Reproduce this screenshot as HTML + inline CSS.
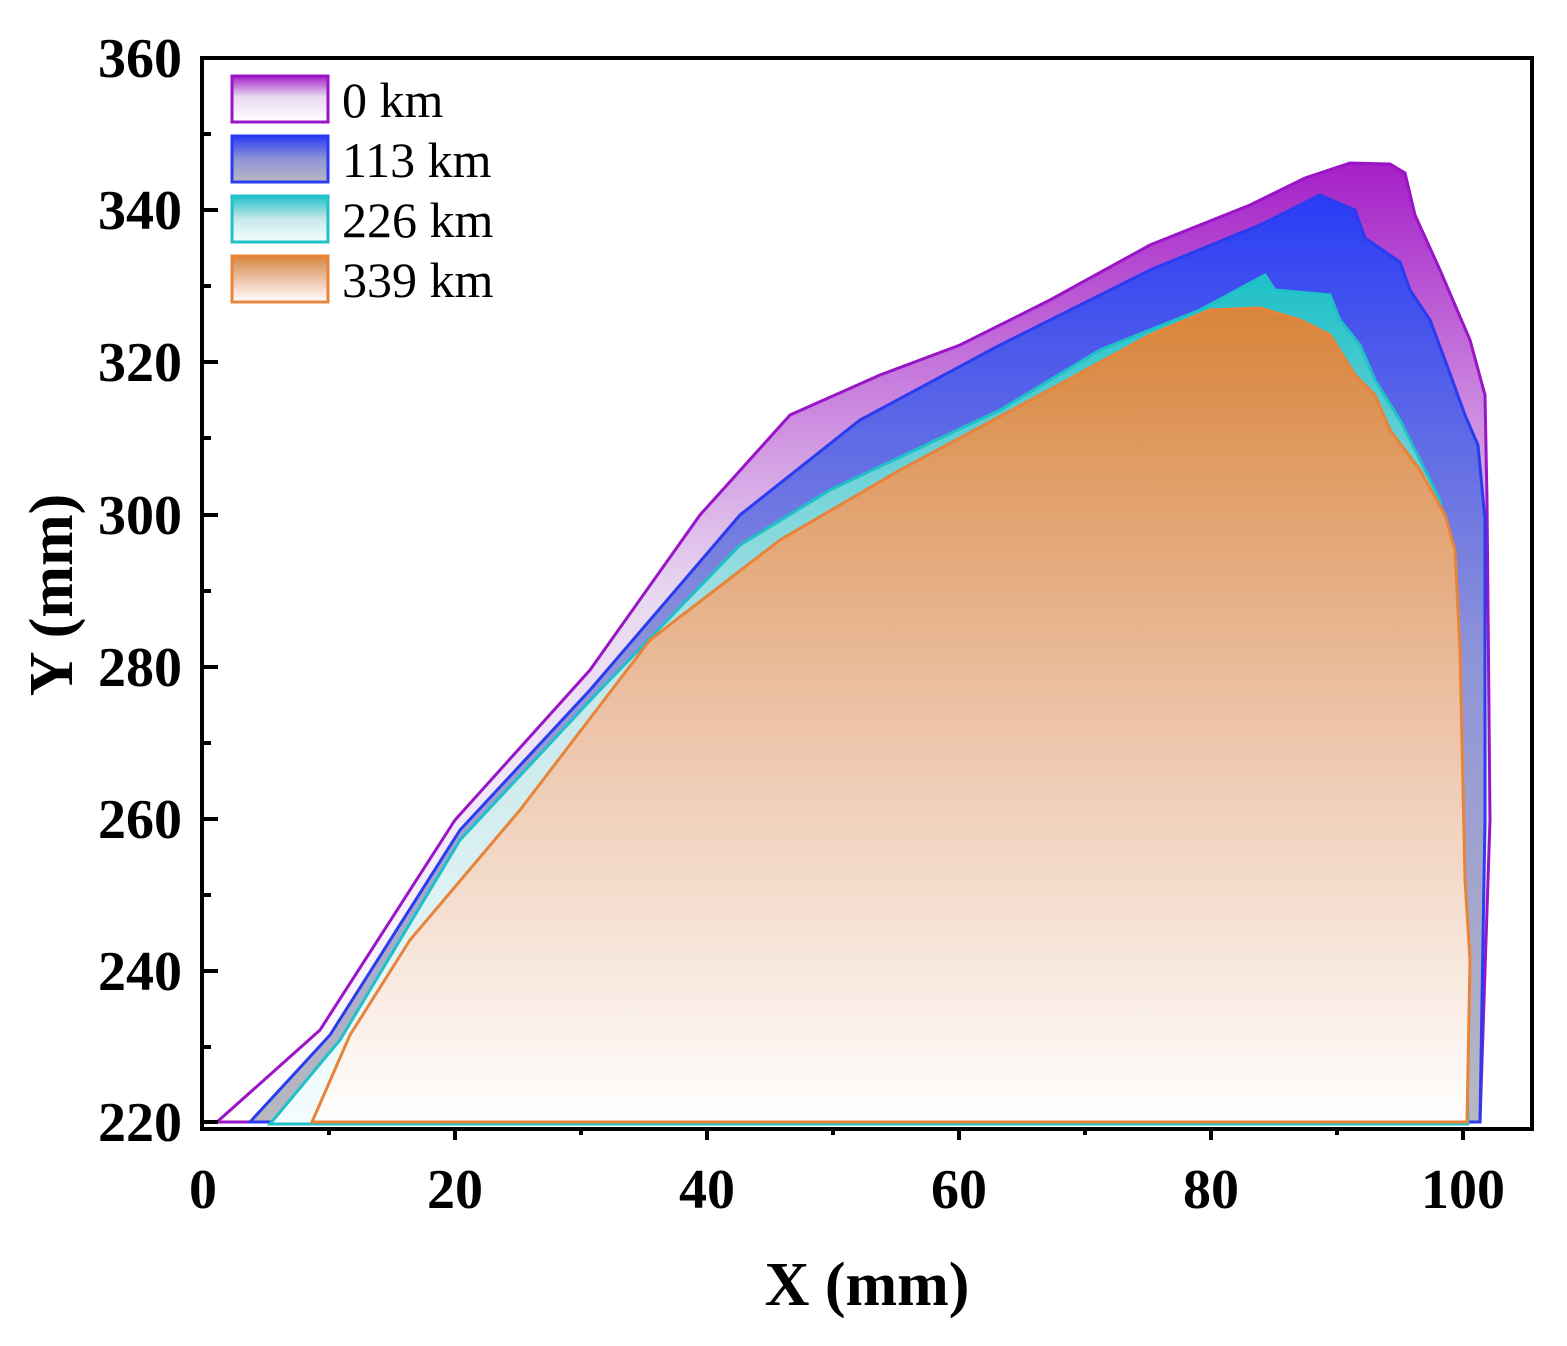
<!DOCTYPE html>
<html><head><style>body{margin:0;background:#fff}</style></head><body>
<svg width="1567" height="1341" xmlns="http://www.w3.org/2000/svg" font-family="Liberation Serif, serif">
<defs>
<linearGradient id="gp" x1="0" y1="0" x2="0" y2="1"><stop offset="0" stop-color="#a51fc8"/><stop offset="0.45" stop-color="#e8d8f0"/><stop offset="1" stop-color="#fff"/></linearGradient>
<linearGradient id="gb" x1="0" y1="0" x2="0" y2="1"><stop offset="0" stop-color="#2a3cf5"/><stop offset="0.5" stop-color="#8f94d8"/><stop offset="1" stop-color="#b8b8c0"/></linearGradient>
<linearGradient id="gc" x1="0" y1="0" x2="0" y2="1"><stop offset="0" stop-color="#1fc0c8"/><stop offset="0.5" stop-color="#c8e8ea"/><stop offset="1" stop-color="#f4fdfd"/></linearGradient>
<linearGradient id="go" x1="0" y1="0" x2="0" y2="1"><stop offset="0" stop-color="#d8843a"/><stop offset="0.5" stop-color="#ecc2a6"/><stop offset="1" stop-color="#fff"/></linearGradient>
</defs>
<polygon fill="url(#gp)" stroke="#9a14c8" stroke-width="3" points="217,1122 320,1030 455,820 590,670 700,515 790,415 880,375 960,345 1050,300 1150,245 1250,205 1305,178 1350,163 1390,164 1405,173 1415,215 1440,270 1470,340 1485,395 1487,500 1490,820 1480,1122"/>
<polygon fill="url(#gb)" stroke="#2a3cf0" stroke-width="3" points="250,1122 330,1035 460,830 590,690 740,515 860,420 1000,345 1150,270 1260,225 1320,195 1355,210 1365,238 1400,262 1410,290 1430,320 1445,360 1465,415 1478,445 1485,520 1485,820 1480,1122"/>
<polygon fill="url(#gc)" stroke="#20c0c8" stroke-width="3" points="270,1124 340,1040 460,840 600,690 740,545 830,490 1000,410 1100,350 1200,310 1265,275 1275,290 1330,295 1340,320 1360,345 1375,380 1400,420 1420,460 1440,500 1450,600 1462,900 1468,1124"/>
<polygon fill="url(#go)" stroke="#e8843a" stroke-width="3" points="312,1122 350,1035 410,940 520,810 650,640 780,540 900,470 1040,395 1150,335 1210,310 1260,308 1300,320 1330,335 1355,375 1375,395 1390,430 1420,470 1445,515 1455,550 1460,650 1465,880 1470,960 1467,1122"/>
<rect x="202" y="58" width="1330" height="1071" fill="none" stroke="#000" stroke-width="4"/>
<g stroke="#000" stroke-width="4">
<line x1="203" y1="58" x2="218" y2="58"/><line x1="203" y1="210" x2="218" y2="210"/><line x1="203" y1="362" x2="218" y2="362"/><line x1="203" y1="515" x2="218" y2="515"/><line x1="203" y1="667" x2="218" y2="667"/><line x1="203" y1="819" x2="218" y2="819"/><line x1="203" y1="971" x2="218" y2="971"/><line x1="203" y1="1122" x2="218" y2="1122"/>
<line x1="203" y1="134" x2="211" y2="134"/><line x1="203" y1="286" x2="211" y2="286"/><line x1="203" y1="438" x2="211" y2="438"/><line x1="203" y1="591" x2="211" y2="591"/><line x1="203" y1="743" x2="211" y2="743"/><line x1="203" y1="895" x2="211" y2="895"/><line x1="203" y1="1047" x2="211" y2="1047"/>
<line x1="455" y1="1129" x2="455" y2="1140"/><line x1="707" y1="1129" x2="707" y2="1140"/><line x1="959" y1="1129" x2="959" y2="1140"/><line x1="1211" y1="1129" x2="1211" y2="1140"/><line x1="1463" y1="1129" x2="1463" y2="1140"/>
<line x1="329" y1="1129" x2="329" y2="1135"/><line x1="581" y1="1129" x2="581" y2="1135"/><line x1="833" y1="1129" x2="833" y2="1135"/><line x1="1085" y1="1129" x2="1085" y2="1135"/><line x1="1337" y1="1129" x2="1337" y2="1135"/>
</g>
<g font-weight="bold" font-size="56" text-anchor="end">
<text x="182" y="77">360</text><text x="182" y="229">340</text><text x="182" y="381">320</text><text x="182" y="534">300</text><text x="182" y="686">280</text><text x="182" y="838">260</text><text x="182" y="990">240</text><text x="182" y="1141">220</text>
</g>
<g font-weight="bold" font-size="56" text-anchor="middle">
<text x="203" y="1208">0</text><text x="455" y="1208">20</text><text x="707" y="1208">40</text><text x="959" y="1208">60</text><text x="1211" y="1208">80</text><text x="1463" y="1208">100</text>
</g>
<text x="867" y="1305" font-weight="bold" font-size="62" text-anchor="middle">X (mm)</text>
<text transform="translate(72,595) rotate(-90)" font-weight="bold" font-size="62" text-anchor="middle">Y (mm)</text>
<rect x="232" y="76" width="96" height="46" fill="url(#gp)" stroke="#9a14c8" stroke-width="3"/>
<rect x="232" y="136" width="96" height="46" fill="url(#gb)" stroke="#2a3cf0" stroke-width="3"/>
<rect x="232" y="196" width="96" height="46" fill="url(#gc)" stroke="#20c0c8" stroke-width="3"/>
<rect x="232" y="256" width="96" height="46" fill="url(#go)" stroke="#e8843a" stroke-width="3"/>
<g font-size="50">
<text x="342" y="117">0 km</text><text x="342" y="177">113 km</text><text x="342" y="237">226 km</text><text x="342" y="297">339 km</text>
</g>
</svg>
</body></html>
